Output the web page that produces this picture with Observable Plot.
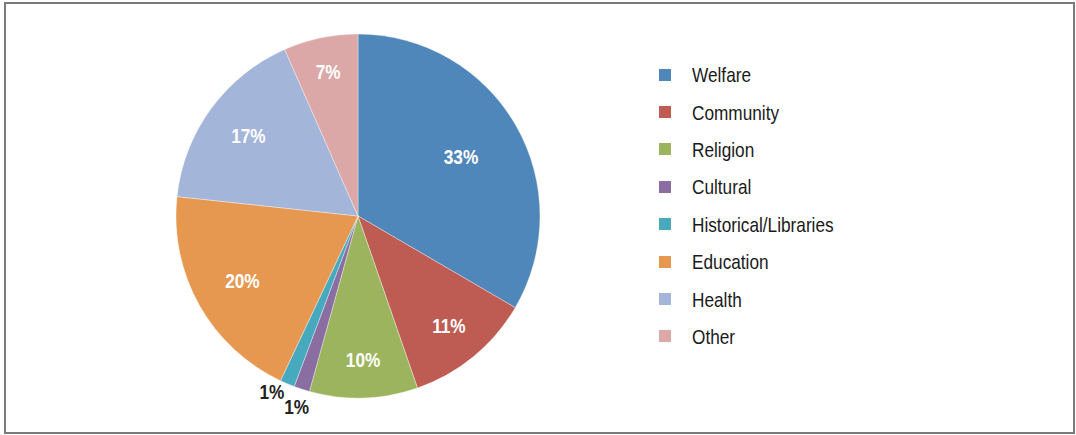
<!DOCTYPE html>
<html><head><meta charset="utf-8">
<script src="https://cdn.jsdelivr.net/npm/d3@7"></script>
<script src="https://cdn.jsdelivr.net/npm/@observablehq/plot@0.6"></script>
<style>
body{margin:0;background:#fff;font-family:"Liberation Sans",Arial,Helvetica,sans-serif;}
#wrap{position:relative;width:1076px;height:435px;overflow:hidden;}
#frame{position:absolute;left:4px;top:2px;width:1067px;height:428px;border:2px solid #7a7a7a;pointer-events:none;}
#chart{position:absolute;left:0;top:0;}
#legend{position:absolute;left:659px;top:56px;}
.row{display:flex;align-items:center;height:37.4px;}
.sw{width:12px;height:12px;margin-right:21px;flex:none;}
.lb{font-size:21px;color:#1a1a1a;line-height:1;display:inline-block;transform:scaleX(0.82);transform-origin:left center;white-space:nowrap;}
</style>
</head><body>
<div id="wrap"><div id="chart"></div><div id="legend"></div><div id="frame"></div></div>
<script>
const categories = ["Welfare","Community","Religion","Cultural","Historical/Libraries","Education","Health","Other"];
const values = [33.4, 11.3, 9.6, 1.4, 1.3, 19.7, 16.7, 6.6];
const colors = ["#5087ba","#be5b53","#9db45e","#8a6ea2","#47a9be","#e69850","#a3b5d8","#dba7a7"];

const W = 1076, H = 435, cx = 358, cy = 216, R = 182;
const data = categories.map((c, i) => ({category: c, value: values[i], color: colors[i]}));
const arcs = d3.pie().sort(null).value(d => d.value)(data);

// label positions in unit-radius coordinates (y up)
const labels = arcs.map((a, i) => {
  const mid = (a.startAngle + a.endAngle) / 2;
  const small = a.data.value < 3;
  const prevSmall = i > 0 && arcs[i - 1].data.value < 3;
  let r, anchor = "middle";
  if (!small) r = 0.85 - 0.006 * a.data.value;
  else if (prevSmall) { r = 1.05; anchor = "end"; }
  else r = 1.1;
  return {
    text: Math.round(a.data.value) + "%",
    x: r * Math.sin(mid),
    y: r * Math.cos(mid),
    small, anchor
  };
});

const pieMark = (index, scales) => {
  const ox = scales.x(0), oy = scales.y(0);
  const rpx = scales.x(1) - scales.x(0);
  const arc = d3.arc().innerRadius(0).outerRadius(rpx);
  const g = d3.create("svg:g").attr("transform", `translate(${ox},${oy})`);
  g.selectAll("path").data(arcs).join("path")
    .attr("d", arc)
    .attr("fill", d => d.data.color)
    .attr("stroke", "#ffffff")
    .attr("stroke-width", 0.6)
    .attr("stroke-opacity", 0.6);
  return g.node();
};

const font = {fontSize: 21, fontWeight: "bold"};
const plot = Plot.plot({
  width: W, height: H,
  margin: 0,
  x: {domain: [-cx / R, (W - cx) / R], range: [0, W], axis: null},
  y: {domain: [-(H - cy) / R, cy / R], range: [H, 0], axis: null},
  style: {fontFamily: '"Liberation Sans", Arial, Helvetica, sans-serif', background: "transparent"},
  marks: [
    pieMark,
    Plot.text(labels.filter(d => !d.small), {x: "x", y: "y", text: "text", fill: "white", ...font}),
    Plot.text(labels.filter(d => d.small && d.anchor === "middle"), {x: "x", y: "y", text: "text", fill: "#222", ...font}),
    Plot.text(labels.filter(d => d.small && d.anchor === "end"), {x: "x", y: "y", text: "text", fill: "#222", textAnchor: "end", ...font})
  ]
});
// narrow the label glyphs (condensed face look) around each text's anchor point
d3.select(plot).selectAll("text").each(function() {
  const t = this.getAttribute("transform");
  if (t) this.setAttribute("transform", t + " scale(0.82,1)");
  else {
    const x = +this.getAttribute("x") || 0, y = +this.getAttribute("y") || 0;
    this.setAttribute("transform", `translate(${x},${y}) scale(0.82,1) translate(${-x},${-y})`);
  }
});
document.getElementById("chart").appendChild(plot);

const leg = document.getElementById("legend");
data.forEach(d => {
  const row = document.createElement("div"); row.className = "row";
  const sw = document.createElement("div"); sw.className = "sw"; sw.style.background = d.color;
  const lb = document.createElement("span"); lb.className = "lb"; lb.textContent = d.category;
  row.appendChild(sw); row.appendChild(lb); leg.appendChild(row);
});
</script>
</body></html>
